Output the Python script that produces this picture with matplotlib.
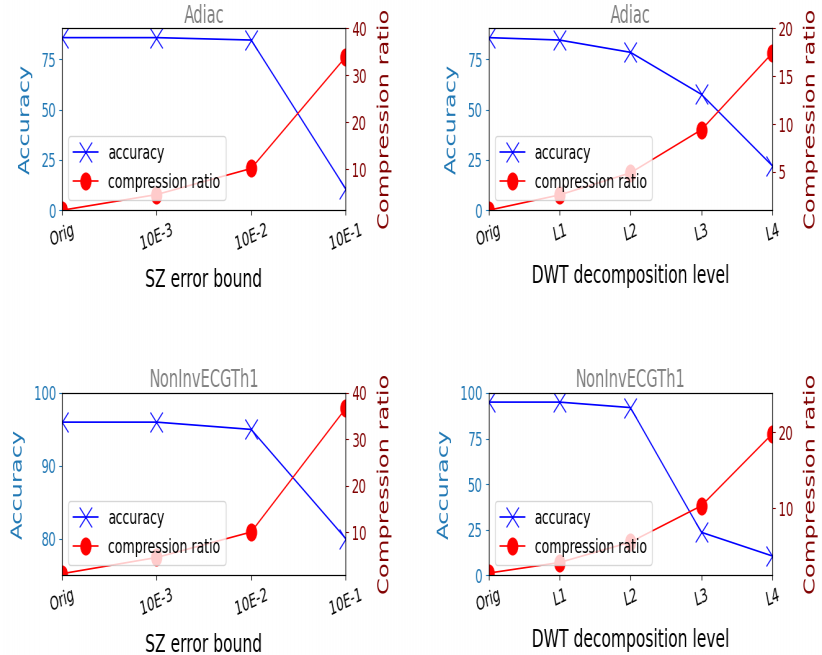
import numpy as np
import matplotlib
matplotlib.use("Agg")
import matplotlib.pyplot as plt

# ---- data ----
sz_labels = ['Orig', '10E-3', '10E-2', '10E-1']
dwt_labels = ['Orig', 'L1', 'L2', 'L3', 'L4']

adiac_sz_acc = [85.8, 85.8, 84.6, 10.6]
adiac_sz_ratio = [1.26, 4.6, 10.15, 33.9]
adiac_dwt_acc = [85.8, 84.6, 78.5, 57.6, 22.1]
adiac_dwt_ratio = [1.0, 2.6, 4.9, 9.4, 17.4]

ecg_sz_acc = [96, 96, 95, 80]
ecg_sz_ratio = [1.0, 4.5, 10.0, 36.7]
ecg_dwt_acc = [95, 95, 92, 23.5, 10.5]
ecg_dwt_ratio = [1.4, 2.8, 5.5, 10.3, 19.8]

# the reference looks squeezed sideways, so draw wide and squeeze afterwards
OUT_W, OUT_H = 822, 655
SQUEEZE = 0.62
W = OUT_W / SQUEEZE

ACC_C = '#1f77b4'
CR_C = '#800000'
TICK_FS = 13.5
XLABEL_FS = 18
YLABEL_FS = 17.4

fig = plt.figure(figsize=(W / 100, OUT_H / 100), dpi=100)

def panel(rect, title, labels, acc, ratio, xlabel, acc_lim, cr_lim, acc_ticks, cr_ticks):
    ax = fig.add_axes(rect)
    x = np.arange(len(labels))
    l1, = ax.plot(x, acc, color='blue', marker='x', markersize=14, lw=1.2, label='accuracy')
    ax.set_ylim(*acc_lim)
    ax.set_yticks(acc_ticks)
    ax.set_xlim(x[0], x[-1])
    ax.set_xticks(x)
    ax.set_xticklabels(labels, rotation=17, fontsize=TICK_FS)
    ax.set_xlabel(xlabel, fontsize=XLABEL_FS, labelpad=10)
    ax.set_ylabel('Accuracy', color=ACC_C, fontsize=YLABEL_FS, labelpad=10)
    ax.tick_params(axis='y', colors=ACC_C, labelsize=TICK_FS)
    ax.set_title(title, color='gray', fontsize=17, pad=4)

    ax2 = ax.twinx()
    l2, = ax2.plot(x, ratio, color='red', marker='o', markersize=12, lw=1.2, label='compression ratio')
    ax2.set_ylim(*cr_lim)
    ax2.set_yticks(cr_ticks)
    ax2.set_ylabel('Compression ratio', color=CR_C, fontsize=YLABEL_FS, labelpad=12)
    ax2.tick_params(axis='y', colors=CR_C, labelsize=TICK_FS)
    ax2.spines['right'].set_color('black')
    ax2.spines['left'].set_color('black')
    ax2.legend([l1, l2], ['accuracy', 'compression ratio'], loc='lower left',
               fontsize=14.5, borderaxespad=0.5)

left_x, right_x, w = 0.0754, 0.594, 0.345
top_y, bot_y, h = 0.679, 0.122, 0.278

panel([left_x, top_y, w, h], 'Adiac', sz_labels, adiac_sz_acc, adiac_sz_ratio,
      'SZ error bound', (0, 90.5), (1.26, 40), [0, 25, 50, 75], [10, 20, 30, 40])
panel([right_x, top_y, w, h], 'Adiac', dwt_labels, adiac_dwt_acc, adiac_dwt_ratio,
      'DWT decomposition level', (0, 90.5), (1.0, 20), [0, 25, 50, 75], [5, 10, 15, 20])
panel([left_x, bot_y, w, h], 'NonInvECGTh1', sz_labels, ecg_sz_acc, ecg_sz_ratio,
      'SZ error bound', (75, 100), (0.7, 40), [80, 90, 100], [10, 20, 30, 40])
panel([right_x, bot_y, w, h], 'NonInvECGTh1', dwt_labels, ecg_dwt_acc, ecg_dwt_ratio,
      'DWT decomposition level', (0, 100), (1.14, 25.2), [0, 25, 50, 75, 100], [10, 20])

fig.savefig('out.png', dpi=100)

# squeeze horizontally with a box filter
img = plt.imread('out.png')[..., :3].astype(float)
src_w = img.shape[1]
cs = np.concatenate([np.zeros((img.shape[0], 1, 3)), np.cumsum(img, axis=1)], axis=1)

def csum(pos):
    i = np.clip(np.floor(pos).astype(int), 0, src_w - 1)
    f = (pos - i)[None, :, None]
    return cs[:, i, :] + f * img[:, i, :]

s = src_w / OUT_W
edges = np.arange(OUT_W + 1) * s
out = (csum(edges[1:]) - csum(edges[:-1])) / s
plt.imsave('out.png', np.clip(out, 0, 1))
